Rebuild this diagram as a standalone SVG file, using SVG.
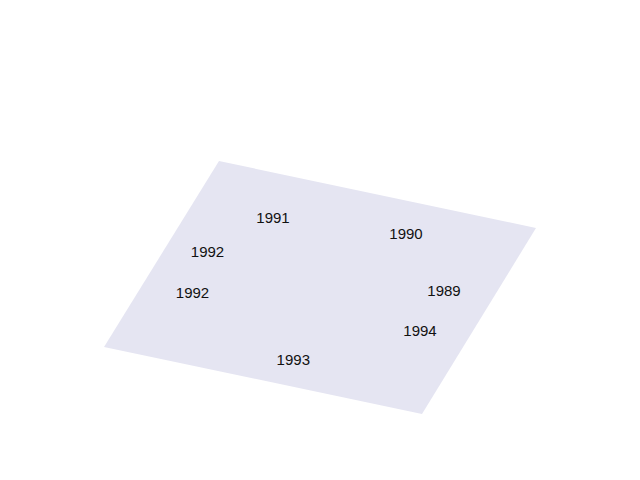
<svg xmlns="http://www.w3.org/2000/svg" width="640" height="480" viewBox="0 0 640 480">
<style>
.plane{fill:#e5e5f2;stroke:none}
.lbl{font-family:"Liberation Sans",Arial,sans-serif;font-size:15px;fill:#111;text-anchor:middle}
</style>
<rect width="640" height="480" fill="#fff"/>
<polygon class="plane" points="219,161 536,228 422,414 104,347"/>
<g id="n1991"><text class="lbl" x="273" y="222.5">1991</text></g>
<g id="n1992a"><text class="lbl" x="207.5" y="257">1992</text></g>
<g id="n1992b"><text class="lbl" x="192.5" y="298">1992</text></g>
<g id="n1990"><text class="lbl" x="406" y="238.5">1990</text></g>
<g id="n1989"><text class="lbl" x="444" y="296">1989</text></g>
<g id="n1994"><text class="lbl" x="420" y="336">1994</text></g>
<g id="n1993"><text class="lbl" x="293.3" y="364.5">1993</text></g>
<g id="connectors"></g>
</svg>
